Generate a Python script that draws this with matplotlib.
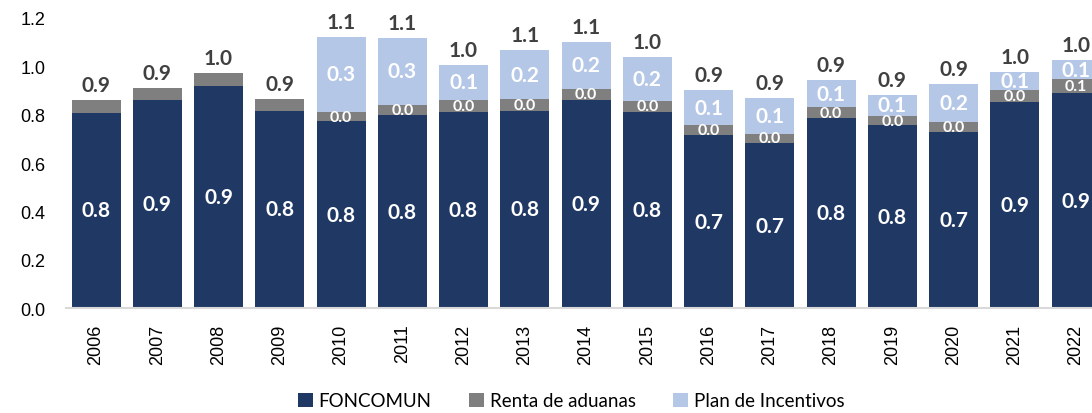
import matplotlib.pyplot as plt
import numpy as np

# Data
years = ["2006", "2007", "2008", "2009", "2010", "2011", "2012", "2013", "2014",
         "2015", "2016", "2017", "2018", "2019", "2020", "2021", "2022"]
foncomun = [0.809, 0.861, 0.918, 0.817, 0.772, 0.798, 0.813, 0.817, 0.861,
            0.813, 0.717, 0.684, 0.788, 0.756, 0.729, 0.852, 0.890]
renta = [0.051, 0.051, 0.056, 0.047, 0.041, 0.044, 0.048, 0.048, 0.045,
         0.043, 0.040, 0.038, 0.042, 0.040, 0.039, 0.049, 0.056]
plan = [0.0, 0.0, 0.0, 0.0, 0.309, 0.276, 0.145, 0.201, 0.196,
        0.184, 0.145, 0.149, 0.115, 0.085, 0.158, 0.077, 0.080]

c_navy = "#203864"
c_gray = "#7F7F7F"
c_light = "#B4C7E7"
label_font = "Lato"

fig = plt.figure(figsize=(10.92, 4.14), dpi=100)
ax = fig.add_axes([66 / 1092, 1 - 309.3 / 414, 1 - 66 / 1092, (309.3 - 18.9) / 414])

x = np.arange(len(years))
f = np.array(foncomun)
r = np.array(renta)
p = np.array(plan)
w = 0.8

b1 = ax.bar(x, f, w, color=c_navy, label="FONCOMUN")
b2 = ax.bar(x, r, w, bottom=f, color=c_gray, label="Renta de aduanas")
b3 = ax.bar(x, p, w, bottom=f + r, color=c_light, label="Plan de Incentivos")

# Segment labels
for i in range(len(years)):
    ax.text(x[i], f[i] / 2, f"{f[i]:.1f}", ha="center", va="center", color="white",
            fontsize=15, fontweight="bold", family=label_font)
    if p[i] > 0:
        ax.text(x[i], f[i] + r[i] / 2, f"{r[i]:.1f}", ha="center", va="center",
                color="white", fontsize=11.5, fontweight="bold", family=label_font)
        ax.text(x[i], f[i] + r[i] + p[i] / 2, f"{p[i]:.1f}", ha="center", va="center",
                color="white", fontsize=15, fontweight="bold", family=label_font)
    total = f[i] + r[i] + p[i]
    ax.annotate(f"{total:.1f}", (x[i], total), xytext=(0, 15), textcoords="offset pixels",
                ha="center", va="center", color="#404040", fontsize=15,
                fontweight="bold", family=label_font, annotation_clip=False)

ax.set_xlim(-0.49, 16.26)
ax.set_ylim(0, 1.2)
ax.set_yticks(np.arange(0, 1.21, 0.2))
ax.set_yticklabels([f"{v:.1f}" for v in np.arange(0, 1.21, 0.2)],
                   fontsize=13, family="Liberation Sans")
ax.set_xticks(x)
ax.set_xticklabels(years, rotation=90, fontsize=13, family="Liberation Sans")
ax.tick_params(axis="both", length=0)
ax.tick_params(axis="y", pad=15)
ax.tick_params(axis="x", pad=11)

for s in ["top", "right", "left"]:
    ax.spines[s].set_visible(False)
ax.spines["bottom"].set_color("#D9D9D9")
ax.spines["bottom"].set_linewidth(1.5)

fig.legend(handles=[b1, b2, b3], loc="center", bbox_to_anchor=(571 / 1092, 1 - 402 / 414),
           ncol=3, frameon=False, prop={"family": label_font, "size": 13.5},
           handlelength=0.8, handleheight=0.8, handletextpad=0.3, columnspacing=2.0)

fig.savefig("out.png", dpi=100)
